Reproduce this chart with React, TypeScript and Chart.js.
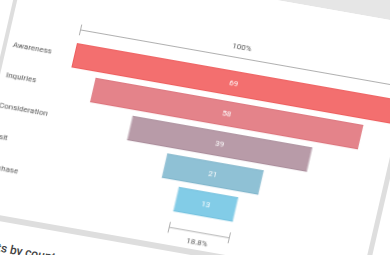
import React, { useEffect, useRef } from "react";
import { Chart, registerables } from "chart.js";

Chart.register(...registerables);

// ---- data ----
const stages = ["Awareness", "Inquiries", "Consideration", "Visit", "Purchase"];
const values = [69, 58, 39, 21, 13];
const fillColors = ["#f36f6f", "#e4838a", "#b89ba8", "#8fc1d5", "#82cce7"];
const borderColors = ["#ee5e5e", "#dc747c", "#aa8d9b", "#80b5cb", "#72c1de"];
const nextCardTitle = "Visits by country";

const maxValue = Math.max(...values);
const floatingData = values.map((v) => [(maxValue - v) / 2, (maxValue + v) / 2]);
const topLabel = "100%";
const bottomLabel = ((values[values.length - 1] / values[0]) * 100).toFixed(1) + "%";

const FONT = "Roboto, 'Open Sans', sans-serif";

function drawBracket(ctx: CanvasRenderingContext2D, x1: number, x2: number, y: number, dir: number, text: string) {
  ctx.save();
  ctx.strokeStyle = "#b0b0b0";
  ctx.lineWidth = 1;
  ctx.beginPath();
  ctx.moveTo(x1, y);
  ctx.lineTo(x2, y);
  ctx.moveTo(x1, y - 5.5);
  ctx.lineTo(x1, y + 5.5);
  ctx.moveTo(x2, y - 5.5);
  ctx.lineTo(x2, y + 5.5);
  ctx.stroke();
  ctx.fillStyle = "#555";
  ctx.font = "8px " + FONT;
  ctx.textAlign = "center";
  ctx.textBaseline = "middle";
  ctx.fillText(text, (x1 + x2) / 2, y + dir * 10.5);
  ctx.restore();
}

const funnelPlugin = {
  id: "funnelExtras",
  afterDatasetsDraw(chart: any) {
    const ctx = chart.ctx as CanvasRenderingContext2D;
    const meta = chart.getDatasetMeta(0);
    ctx.save();
    ctx.font = "8px " + FONT;
    ctx.textAlign = "center";
    ctx.textBaseline = "middle";
    ctx.fillStyle = "#ffffff";
    meta.data.forEach((bar: any, i: number) => {
      const p = bar.getProps(["x", "base", "y"], true);
      ctx.fillText(String(values[i]), (p.x + p.base) / 2, p.y + 0.5);
    });
    ctx.restore();
    const first = meta.data[0].getProps(["x", "base", "y", "height"], true);
    const last = meta.data[meta.data.length - 1].getProps(["x", "base", "y", "height"], true);
    drawBracket(ctx, Math.round(first.base) + 0.5, Math.round(first.x) - 0.5, Math.round(first.y - first.height / 2 - 14) + 0.5, -1, topLabel);
    drawBracket(ctx, Math.round(last.base) + 0.5, Math.round(last.x) - 0.5, Math.round(last.y + last.height / 2 + 16) + 0.5, 1, bottomLabel);
  },
};

export default function App() {
  const canvasRef = useRef<HTMLCanvasElement | null>(null);

  useEffect(() => {
    const canvas = canvasRef.current;
    if (!canvas) return;
    const chart = new Chart(canvas, {
      type: "bar",
      data: {
        labels: stages,
        datasets: [
          {
            data: floatingData as any,
            backgroundColor: fillColors,
            borderColor: borderColors,
            borderWidth: 1,
            borderSkipped: false,
            categoryPercentage: 1,
            barPercentage: 0.81,
          },
        ],
      },
      options: {
        indexAxis: "y",
        animation: false,
        responsive: false,
        devicePixelRatio: 1,
        layout: { padding: { left: 2, right: 8, top: 39, bottom: 30 } },
        plugins: { legend: { display: false }, tooltip: { enabled: false } },
        scales: {
          x: { display: false, min: 0, max: maxValue },
          y: {
            grid: { display: false },
            border: { display: false },
            ticks: {
              crossAlign: "far",
              padding: 0,
              color: "#555",
              font: { size: 8, family: FONT },
            },
            afterFit(scale: any) {
              scale.width = 62;
            },
          },
        },
      },
      plugins: [funnelPlugin],
    } as any);
    return () => chart.destroy();
  }, []);

  return (
    <div
      style={{
        position: "fixed",
        left: 0,
        top: 0,
        width: 390,
        height: 255,
        overflow: "hidden",
        background: "#fff",
        filter: "blur(0.4px)",
      }}
    >
      <div
        style={{
          position: "absolute",
          left: 77,
          top: 43,
          width: 0,
          height: 0,
          transform: "rotate(10deg) skewX(-3deg)",
          transformOrigin: "0 0",
        }}
      >
        <div style={{ position: "absolute", left: -140, top: -220, width: 620, height: 143, background: "#e6e6e6" }} />
        <div
          style={{
            position: "absolute",
            left: -72,
            top: -77,
            width: 408,
            height: 266,
            boxSizing: "border-box",
            background: "#fff",
            borderStyle: "solid",
            borderColor: "#dedede",
            borderWidth: "0 5px 6px 4px",
          }}
        />
        <canvas
          ref={canvasRef}
          width={396}
          height={224}
          style={{ position: "absolute", left: -64, top: -42, width: 396, height: 224 }}
        />
        <div
          style={{
            position: "absolute",
            left: -52,
            top: 208,
            font: "500 12px " + FONT,
            color: "#444",
            whiteSpace: "nowrap",
            lineHeight: "14px",
          }}
        >
          {nextCardTitle}
        </div>
      </div>
    </div>
  );
}
